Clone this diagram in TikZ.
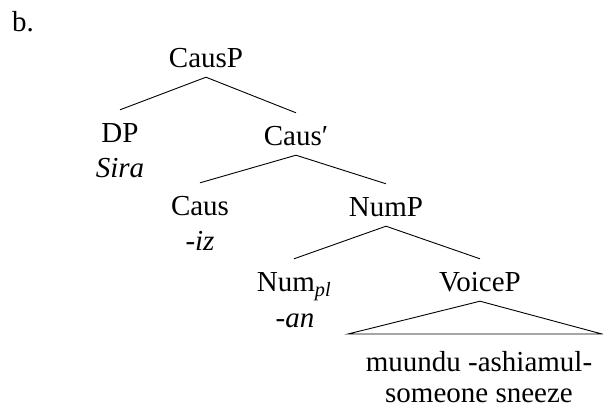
\documentclass[tikz,border=0pt]{standalone}
\usepackage{fontspec}
\setmainfont{Liberation Serif}
\tikzset{
  lbl/.style={anchor=base, text height=22pt, text depth=0pt, inner ysep=10pt, inner xsep=2pt, font=\fontsize{29}{29}\selectfont},
  gloss/.style={anchor=base, inner sep=0pt, font=\fontsize{29}{29}\selectfont},
  branch/.style={line width=0.9pt}
}
\begin{document}
\begin{tikzpicture}[x=1pt,y=-1pt]
\useasboundingbox (0,0) rectangle (603,408);
\node[gloss, anchor=base west] (lab) at (12,31) {b.};
\node[lbl] (causp) at (206,67) {CausP};
\node[lbl] (dp) at (120,142) {DP};
\node[gloss] (sira) at (120,177) {\itshape Sira};
\node[lbl] (causbar) at (296,145) {Caus′};
\node[lbl] (caus) at (200,215) {Caus};
\node[gloss] (iz) at (200,250) {-\textit{iz}};
\node[lbl] (nump) at (386,216) {NumP};
\node[lbl] (num) at (294,291) {Num\textsubscript{\textit{pl}}};
\node[gloss] (an) at (295,327) {-\textit{an}};
\node[lbl] (voicep) at (480,291) {VoiceP};
\node[gloss, align=center] (words) at (479,402) {muundu -ashiamul-\\[2pt]someone sneeze};
\coordinate (tl) at (348,334);
\coordinate (tr) at (602,334);
\draw[branch] (causp.south) -- (dp.north);
\draw[branch] (causp.south) -- (causbar.north);
\draw[branch] (causbar.south) -- (caus.north);
\draw[branch] (causbar.south) -- (nump.north);
\draw[branch] (nump.south) -- (num.north);
\draw[branch] (nump.south) -- (voicep.north);
\draw[branch] (voicep.south) -- (tl) -- (tr) -- cycle;
\end{tikzpicture}
\end{document}
